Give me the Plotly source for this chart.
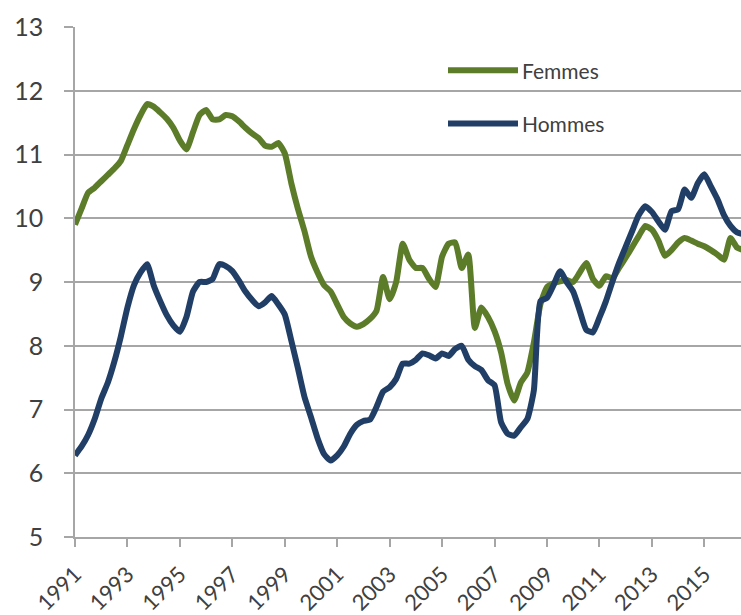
import plotly.graph_objects as go

# Quarterly series, 1991 Q1 onwards
start_year = 1991
femmes = [
    9.90, 10.15, 10.40, 10.48,   # 1991
    10.58, 10.68, 10.78, 10.90,  # 1992
    11.15, 11.40, 11.62, 11.79,  # 1993
    11.75, 11.66, 11.56, 11.42,  # 1994
    11.22, 11.08, 11.35, 11.62,  # 1995
    11.70, 11.55, 11.55, 11.62,  # 1996
    11.60, 11.52, 11.42, 11.33,  # 1997
    11.26, 11.14, 11.12, 11.18,  # 1998
    11.02, 10.55, 10.15, 9.80,   # 1999
    9.40, 9.15, 8.95, 8.85,      # 2000
    8.65, 8.45, 8.35, 8.30,      # 2001
    8.34, 8.42, 8.55, 9.08,      # 2002
    8.73, 9.00, 9.60, 9.35,      # 2003
    9.22, 9.22, 9.05, 8.92,      # 2004
    9.40, 9.60, 9.62, 9.22,      # 2005
    9.43, 8.28, 8.60, 8.45,      # 2006
    8.23, 7.90, 7.40, 7.14,      # 2007
    7.42, 7.58, 8.05, 8.65,      # 2008
    8.92, 8.98, 9.01, 9.03,      # 2009
    9.00, 9.15, 9.30, 9.05,      # 2010
    8.94, 9.09, 9.06, 9.22,      # 2011
    9.38, 9.55, 9.72, 9.88,      # 2012
    9.82, 9.65, 9.41, 9.50,      # 2013
    9.62, 9.69, 9.65, 9.60,      # 2014
    9.56, 9.50, 9.43, 9.35,      # 2015
    9.69, 9.54, 9.50,            # 2016
]
hommes = [
    6.28, 6.42, 6.60, 6.85,      # 1991
    7.17, 7.42, 7.75, 8.15,      # 1992
    8.60, 8.95, 9.15, 9.28,      # 1993
    8.95, 8.70, 8.48, 8.32,      # 1994
    8.22, 8.45, 8.85, 9.00,      # 1995
    9.00, 9.05, 9.28, 9.25,      # 1996
    9.17, 9.02, 8.85, 8.72,      # 1997
    8.62, 8.68, 8.78, 8.65,      # 1998
    8.49, 8.08, 7.65, 7.20,      # 1999
    6.88, 6.55, 6.30, 6.20,      # 2000
    6.28, 6.42, 6.62, 6.76,      # 2001
    6.82, 6.84, 7.04, 7.28,      # 2002
    7.35, 7.48, 7.72, 7.72,      # 2003
    7.78, 7.88, 7.85, 7.80,      # 2004
    7.88, 7.84, 7.95, 8.00,      # 2005
    7.78, 7.68, 7.62, 7.46,      # 2006
    7.38, 6.80, 6.62, 6.59,      # 2007
    6.72, 6.85, 7.30, 8.70,      # 2008
    8.75, 8.95, 9.17, 9.00,      # 2009
    8.85, 8.55, 8.25, 8.21,      # 2010
    8.44, 8.70, 9.01, 9.30,      # 2011
    9.55, 9.80, 10.05, 10.19,    # 2012
    10.10, 9.95, 9.82, 10.11,    # 2013
    10.14, 10.45, 10.32, 10.55,  # 2014
    10.69, 10.50, 10.30, 10.05,  # 2015
    9.88, 9.78, 9.75,            # 2016
]
tick_years = list(range(1991, 2017, 2))
series_names = ["Femmes", "Hommes"]
series_colors = ["#5c7c2a", "#213f66"]

x_f = [start_year + i / 4 for i in range(len(femmes))]
x_h = [start_year + i / 4 for i in range(len(hommes))]

fig = go.Figure()
for name, xs, ys, col in zip(series_names, [x_f, x_h], [femmes, hommes], series_colors):
    fig.add_trace(go.Scatter(
        x=xs, y=ys, mode="lines", name=name,
        line=dict(color=col, width=6, shape="spline", smoothing=0.5),
        showlegend=False,
    ))

font_family = "Lato, 'Open Sans', sans-serif"
grid_col = "#a6a6a6"

fig.update_layout(
    width=741, height=615,
    margin=dict(l=75, r=0, t=27, b=78),
    paper_bgcolor="white", plot_bgcolor="white",
    font=dict(family=font_family, color="#404040"),
    xaxis=dict(
        range=[1991, 2016.4],
        tickmode="array", tickvals=tick_years, ticktext=[str(y) for y in tick_years],
        tickangle=-45, tickfont=dict(size=22, color="#404040"),
        ticks="outside", ticklen=8, tickcolor=grid_col, tickwidth=1.5,
        ticklabelstandoff=6,
        showgrid=False, zeroline=False,
        showline=True, linecolor=grid_col, linewidth=1.5,
    ),
    yaxis=dict(
        range=[5, 13], dtick=1, tick0=5,
        tickfont=dict(size=25, color="#404040"),
        ticks="outside", ticklen=9, tickcolor=grid_col, tickwidth=1.5,
        ticklabelstandoff=16,
        showgrid=True, gridcolor=grid_col, gridwidth=1.5,
        zeroline=False, showline=True, linecolor=grid_col, linewidth=1.5,
    ),
)

# Legend drawn inside the plot area
legend_rows = [(0.915, series_names[0], series_colors[0]),
               (0.811, series_names[1], series_colors[1])]
for y, name, col in legend_rows:
    fig.add_shape(type="line", xref="paper", yref="paper",
                  x0=(448 - 75) / 666, x1=(518 - 75) / 666, y0=y, y1=y,
                  line=dict(color=col, width=6))
    fig.add_annotation(xref="paper", yref="paper", x=(520 - 75) / 666, y=y,
                       text=name, showarrow=False, xanchor="left", yanchor="middle",
                       font=dict(size=21, color="#404040", family=font_family))

fig.write_html("out.html")
